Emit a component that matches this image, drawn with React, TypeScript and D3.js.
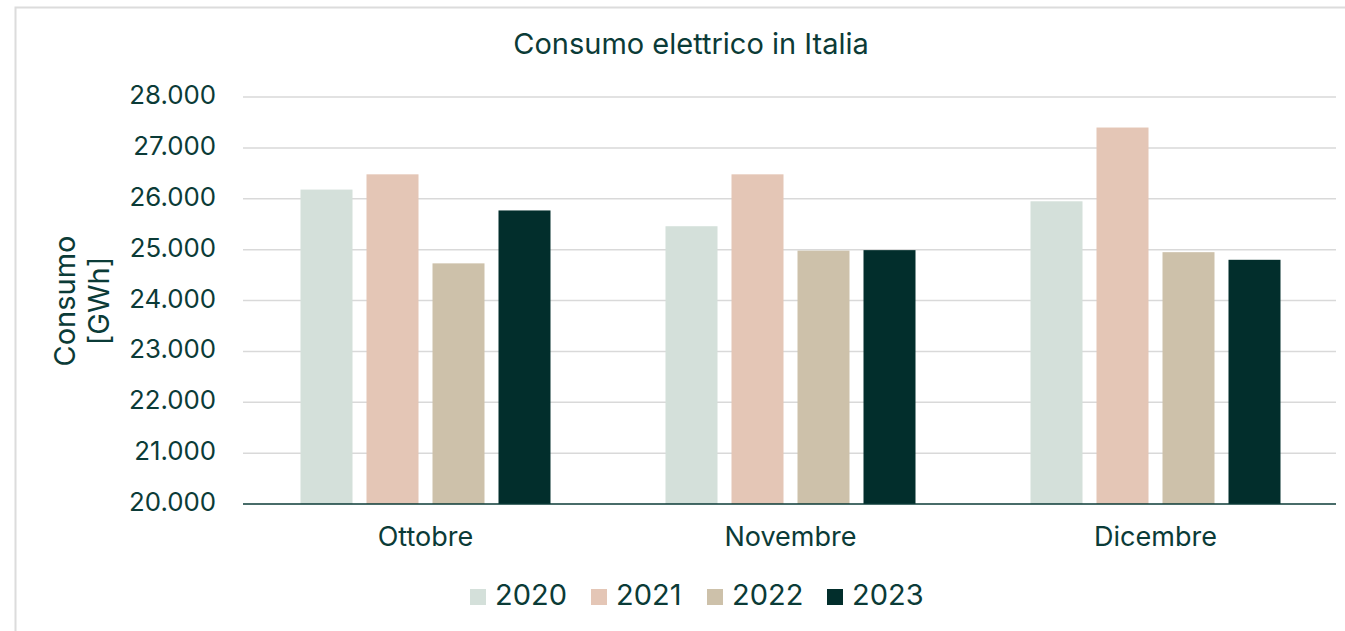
import React from "react";
import * as d3 from "d3";

const months = ["Ottobre", "Novembre", "Dicembre"];
const years = ["2020", "2021", "2022", "2023"];
const v2020 = [26180, 25460, 25950];
const v2021 = [26480, 26480, 27400];
const v2022 = [24730, 24980, 24950];
const v2023 = [25770, 24990, 24800];
const yTicks = [20000, 21000, 22000, 23000, 24000, 25000, 26000, 27000, 28000];
const colors = ["#d4e0da", "#e4c6b6", "#cdc1aa", "#022e2c"];

const series = [v2020, v2021, v2022, v2023];
const TEXT = "#0b3b37";
const FONT = "Inter, 'Noto Sans', sans-serif";

export default function App() {
  const W = 1345, H = 631;
  const left = 243, right = 1338, top = 97, bottom = 504;
  const x0 = d3.scaleBand<string>().domain(months).range([left, right]).padding(0);
  const x1 = d3.scaleBand<string>().domain(years).range([-125, 125]).paddingInner(14 / 66).paddingOuter(0);
  const y = d3.scaleLinear().domain([20000, 28000]).range([bottom, top]);
  const fmt = (v: number) => d3.format(",")(v).replace(/,/g, ".");

  const legendX = [470, 591, 707, 827];

  return (
    <svg width={W} height={H} style={{ position: "absolute", left: 0, top: 0, fontFamily: FONT }}>
      <rect x={0} y={0} width={W} height={H} fill="#fff" />
      <path d={`M15.5,${H} V7.5 H${W}`} fill="none" stroke="#dcdcdc" strokeWidth={2} />
      <text x={691} y={46} fill={TEXT} fontSize={29} textAnchor="middle" dominantBaseline="middle">
        Consumo elettrico in Italia
      </text>
      {yTicks.map((t) => (
        <g key={t}>
          {t !== 20000 && (
            <line x1={left} x2={1336} y1={y(t)} y2={y(t)} stroke="#d9d9d9" strokeWidth={1.5} />
          )}
          <text x={216} y={y(t)} fill={TEXT} fontSize={25.8} textAnchor="end" dominantBaseline="middle">
            {fmt(t)}
          </text>
        </g>
      ))}
      {months.map((m, i) => {
        const cx = (x0(m) as number) + x0.bandwidth() / 2;
        return (
          <g key={m}>
            {years.map((yr, j) => (
              <rect
                key={yr}
                x={cx + (x1(yr) as number)}
                y={y(series[j][i])}
                width={x1.bandwidth()}
                height={bottom - y(series[j][i])}
                fill={colors[j]}
              />
            ))}
            <text x={cx} y={539} fill={TEXT} fontSize={27} textAnchor="middle" dominantBaseline="middle">
              {m}
            </text>
          </g>
        );
      })}
      <line x1={left} x2={1336} y1={bottom} y2={bottom} stroke="#0b3b37" strokeWidth={1.5} />
      <text transform="translate(67,301) rotate(-90)" fill={TEXT} fontSize={29} textAnchor="middle" dominantBaseline="middle">
        Consumo
      </text>
      <text transform="translate(101,301) rotate(-90)" fill={TEXT} fontSize={29} textAnchor="middle" dominantBaseline="middle">
        [GWh]
      </text>
      {years.map((yr, j) => (
        <g key={yr}>
          <rect x={legendX[j]} y={589} width={16} height={16} fill={colors[j]} />
          <text x={legendX[j] + 25} y={597} fill={TEXT} fontSize={29} dominantBaseline="middle">
            {yr}
          </text>
        </g>
      ))}
    </svg>
  );
}
